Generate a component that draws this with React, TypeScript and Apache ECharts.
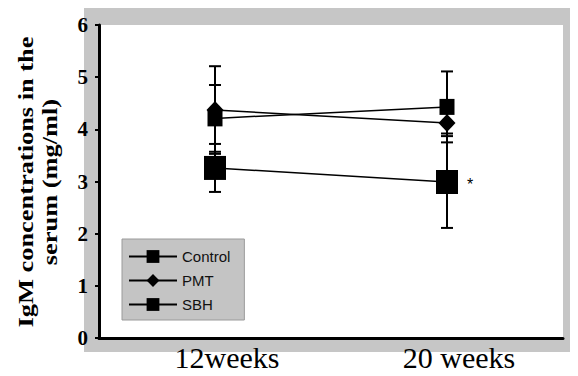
import React, { useEffect, useRef } from "react";
import * as echarts from "echarts";

const categories = ["12weeks", "20 weeks"];
const yTicks = [0, 1, 2, 3, 4, 5, 6];
const controlValues = [4.21, 4.43];
const controlErr = [0.64, 0.68];
const pmtValues = [4.37, 4.12];
const pmtErr = [0.84, 0.2];
const sbhValues = [3.26, 2.99];
const sbhErr = [0.46, 0.88];
const seriesNames = ["Control", "PMT", "SBH"];

export default function App() {
  const ref = useRef<HTMLDivElement>(null);
  useEffect(() => {
    if (!ref.current) return;
    const chart = echarts.init(ref.current, undefined, { renderer: "svg" });
    const errData: number[][] = [];
    const all = [
      [controlValues, controlErr],
      [pmtValues, pmtErr],
      [sbhValues, sbhErr],
    ];
    all.forEach(([vals, errs]) => {
      vals.forEach((v, i) => errData.push([i, v - errs[i], v + errs[i]]));
    });
    const lineCommon = {
      type: "line" as const,
      lineStyle: { color: "#000", width: 1.5 },
      itemStyle: { color: "#000" },
      z: 5,
    };
    chart.setOption({
      animation: false,
      backgroundColor: "#fff",
      grid: { left: 99, right: 15, top: 25, bottom: 38, containLabel: false },
      xAxis: {
        type: "category",
        data: categories,
        boundaryGap: true,
        axisLine: { lineStyle: { color: "#000", width: 3 } },
        axisTick: { show: false },
        axisLabel: {
          color: "#000",
          fontFamily: "Liberation Serif",
          fontSize: 30,
          margin: 4,
          padding: [0, 0, 0, 24],
        },
        splitLine: { show: false },
      },
      yAxis: {
        type: "value",
        min: yTicks[0],
        max: yTicks[yTicks.length - 1],
        interval: 1,
        axisLine: { show: true, lineStyle: { color: "#000", width: 3 } },
        axisTick: { show: true, length: 4, lineStyle: { color: "#000", width: 2 } },
        axisLabel: {
          color: "#000",
          fontFamily: "Liberation Serif",
          fontWeight: "bold",
          fontSize: 21,
          margin: 11,
        },
        splitLine: { show: false },
      },
      legend: {
        orient: "vertical",
        left: 122,
        top: 239,
        width: 122,
        data: seriesNames,
        backgroundColor: "#c4c4c4",
        borderColor: "#9a9a9a",
        borderWidth: 1,
        padding: [10, 14, 8, 6],
        itemGap: 9,
        itemWidth: 48,
        itemHeight: 16,
        textStyle: { color: "#111", fontFamily: "Liberation Sans", fontSize: 15 },
      },
      graphic: [
        { type: "rect", z: -10, silent: true, shape: { x: 84, y: 8, width: 494, height: 17 }, style: { fill: "#c6c6c6" } },
        { type: "rect", z: -10, silent: true, shape: { x: 84, y: 25, width: 14, height: 327 }, style: { fill: "#c6c6c6" } },
        { type: "rect", z: -10, silent: true, shape: { x: 84, y: 339, width: 480, height: 13 }, style: { fill: "#c6c6c6" } },
        { type: "rect", z: -10, silent: true, shape: { x: 563, y: 25, width: 15, height: 327 }, style: { fill: "#c6c6c6" } },
        {
          type: "text",
          x: 37,
          y: 182,
          rotation: Math.PI / 2,
          scaleX: 1.2,
          style: {
            text: "IgM concentrations in the\nserum (mg/ml)",
            fontFamily: "Liberation Serif",
            fontWeight: "bold",
            fontSize: 22,
            lineHeight: 24,
            fill: "#000",
            align: "center",
            verticalAlign: "middle",
          },
        },
      ],
      series: [
        {
          type: "custom",
          name: "err",
          z: 2,
          silent: true,
          data: errData,
          renderItem: (params: any, api: any) => {
            const x = api.coord([api.value(0), api.value(1)])[0];
            const yLow = api.coord([api.value(0), api.value(1)])[1];
            const yHigh = api.coord([api.value(0), api.value(2)])[1];
            const s = { stroke: "#000", lineWidth: 2 };
            return {
              type: "group",
              children: [
                { type: "line", shape: { x1: x, y1: yLow, x2: x, y2: yHigh }, style: s },
                { type: "line", shape: { x1: x - 6, y1: yLow, x2: x + 6, y2: yLow }, style: s },
                { type: "line", shape: { x1: x - 6, y1: yHigh, x2: x + 6, y2: yHigh }, style: s },
              ],
            };
          },
        },
        {
          ...lineCommon,
          name: "Control",
          data: controlValues,
          symbol: "rect",
          symbolSize: [15, 16],
        },
        {
          ...lineCommon,
          name: "PMT",
          data: pmtValues,
          symbol: "diamond",
          symbolSize: [17, 18],
        },
        {
          ...lineCommon,
          name: "SBH",
          data: sbhValues,
          symbol: "rect",
          symbolSize: [22, 24],
          markPoint: {
            symbol: "circle",
            symbolSize: 0,
            data: [{ coord: [categories[1], sbhValues[1]], value: "*" }],
            label: {
              show: true,
              formatter: "*",
              offset: [23, 2],
              color: "#000",
              fontFamily: "Liberation Sans",
              fontSize: 16,
            },
          },
        },
      ],
    });
    return () => chart.dispose();
  }, []);
  return <div ref={ref} style={{ width: 578, height: 376, margin: -8 }} />;
}
